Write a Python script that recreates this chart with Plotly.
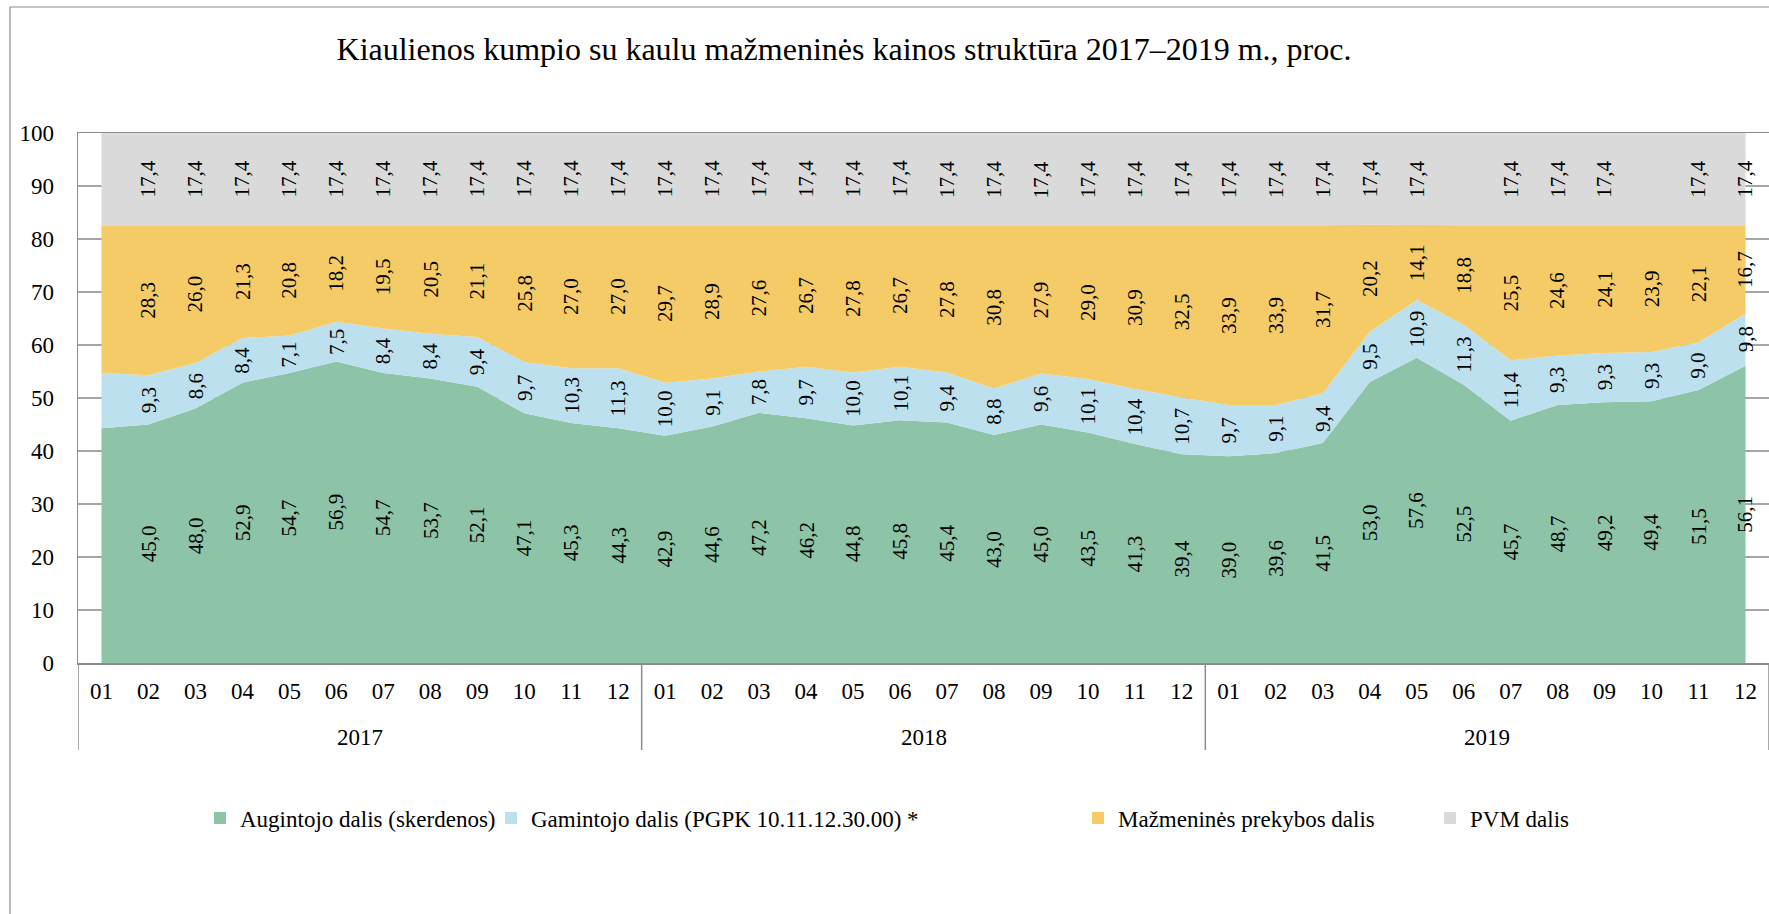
import plotly.graph_objects as go

# ---------------- data ----------------
years = ["2017", "2018", "2019"]
months = ["01", "02", "03", "04", "05", "06", "07", "08", "09", "10", "11", "12"]

augintojo = [44.3, 45.0, 48.0, 52.9, 54.7, 56.9, 54.7, 53.7, 52.1, 47.1, 45.3, 44.3,
             42.9, 44.6, 47.2, 46.2, 44.8, 45.8, 45.4, 43.0, 45.0, 43.5, 41.3, 39.4,
             39.0, 39.6, 41.5, 53.0, 57.6, 52.5, 45.7, 48.7, 49.2, 49.4, 51.5, 56.1]
gamintojo = [10.4, 9.3, 8.6, 8.4, 7.1, 7.5, 8.4, 8.4, 9.4, 9.7, 10.3, 11.3,
             10.0, 9.1, 7.8, 9.7, 10.0, 10.1, 9.4, 8.8, 9.6, 10.1, 10.4, 10.7,
             9.7, 9.1, 9.4, 9.5, 10.9, 11.3, 11.4, 9.3, 9.3, 9.3, 9.0, 9.8]
mazmenines = [27.9, 28.3, 26.0, 21.3, 20.8, 18.2, 19.5, 20.5, 21.1, 25.8, 27.0, 27.0,
              29.7, 28.9, 27.6, 26.7, 27.8, 26.7, 27.8, 30.8, 27.9, 29.0, 30.9, 32.5,
              33.9, 33.9, 31.7, 20.2, 14.1, 18.8, 25.5, 24.6, 24.1, 23.9, 22.1, 16.7]
pvm = [17.4] * 36

series_names = ["Augintojo dalis (skerdenos)",
                "Gamintojo dalis (PGPK 10.11.12.30.00) *",
                "Mažmeninės prekybos dalis",
                "PVM dalis"]
series_values = [augintojo, gamintojo, mazmenines, pvm]
series_colors = ["#8DC3A7", "#BDE0EF", "#F4CB67", "#DADADA"]

# data labels not shown in the original: (series index, point index)
hidden_labels = {(0, 0), (1, 0), (2, 0), (3, 0), (3, 29), (3, 33)}

title_text = "Kiaulienos kumpio su kaulu mažmeninės kainos struktūra 2017–2019 m., proc."

# ---------------- figure ----------------
FONT = "Liberation Serif"
W, H = 1769, 914
L, R, T, B = 78, 0, 133, 251
plot_h = H - T - B
plot_w = W - L - R

categories = [f"{y}-{m}" for y in years for m in months]
month_ticks = [m for y in years for m in months]

fig = go.Figure()

for name, vals, col in zip(series_names, series_values, series_colors):
    fig.add_trace(go.Scatter(
        x=categories, y=vals, name=name, stackgroup="one", mode="lines",
        line=dict(width=0, color=col), fillcolor=col, showlegend=False,
        hoverinfo="skip"))

# legend entries (small squares), each in its own legend to reproduce spacing
legend_px = [200, 491, 1078, 1430]
legend_keys = ["legend", "legend2", "legend3", "legend4"]
for name, col, key in zip(series_names, series_colors, legend_keys):
    fig.add_trace(go.Scatter(
        x=[None], y=[None], mode="markers", name=name, legend=key,
        marker=dict(symbol="square", size=12, color=col), showlegend=True))

legend_y = (T + plot_h - 818) / plot_h
for key, px in zip(legend_keys, legend_px):
    fig.update_layout({key: dict(
        x=(px - L) / plot_w, xanchor="left", y=legend_y, yanchor="middle",
        orientation="h", font=dict(family=FONT, size=23, color="black"),
        bgcolor="rgba(0,0,0,0)", borderwidth=0)})

# data labels at the middle of each band
annotations = []
for i in range(len(categories)):
    base = 0.0
    for s, vals in enumerate(series_values):
        v = vals[i]
        if (s, i) not in hidden_labels:
            annotations.append(dict(
                x=i, y=base + v / 2, xref="x", yref="y",
                text=f"{v:.1f}".replace(".", ","), showarrow=False,
                textangle=-90, font=dict(family=FONT, size=21, color="black")))
        base += v

# year labels
year_y = (T + plot_h - 737) / plot_h
for k, y in enumerate(years):
    annotations.append(dict(
        x=k * 12 + 5.5, y=year_y, xref="x", yref="paper", text=y,
        showarrow=False, yanchor="middle",
        font=dict(family=FONT, size=23, color="black")))

# category group dividers and outer frame
shapes = []
div_bottom = (T + plot_h - 750) / plot_h
for k in range(len(years) + 1):
    shapes.append(dict(
        type="line", xref="x", yref="paper", x0=k * 12 - 0.5, x1=k * 12 - 0.5,
        y0=0, y1=div_bottom, line=dict(color="#8C8C8C", width=1.5)))
shapes.append(dict(
    type="rect", xref="paper", yref="paper",
    x0=(10 - L) / plot_w, x1=1.05,
    y0=-0.6, y1=(T + plot_h - 7) / plot_h,
    line=dict(color="#8C8C8C", width=1.2), fillcolor="rgba(0,0,0,0)", layer="below"))

fig.update_layout(
    width=W, height=H,
    margin=dict(l=L, r=R, t=T, b=B),
    paper_bgcolor="white", plot_bgcolor="white",
    font=dict(family=FONT, color="black"),
    title=dict(text=title_text, x=844 / W, xref="container", xanchor="center",
               y=1 - 49 / H, yref="container", yanchor="middle",
               font=dict(family=FONT, size=32, color="black")),
    annotations=annotations,
    shapes=shapes,
    hovermode=False,
)

fig.update_xaxes(
    type="category", categoryorder="array", categoryarray=categories,
    range=[-0.5, 35.5], tickmode="array", tickvals=categories, ticktext=month_ticks,
    tickfont=dict(family=FONT, size=23, color="black"),
    showgrid=False, showline=True, mirror=True, linecolor="#8C8C8C", linewidth=1.5,
    ticks="", ticklabelstandoff=7, zeroline=False)

fig.update_yaxes(
    range=[0, 100], dtick=10, tick0=0,
    tickfont=dict(family=FONT, size=23, color="black"),
    showgrid=True, gridcolor="#A6A6A6", gridwidth=1.2,
    showline=True, linecolor="#8C8C8C", linewidth=1.5,
    ticks="", ticklabelstandoff=18, zeroline=False)

fig.write_html(
    "out.html",
    config={"displayModeBar": False, "staticPlot": True},
    post_script="document.body.style.margin='0';document.body.style.overflow='hidden';")
